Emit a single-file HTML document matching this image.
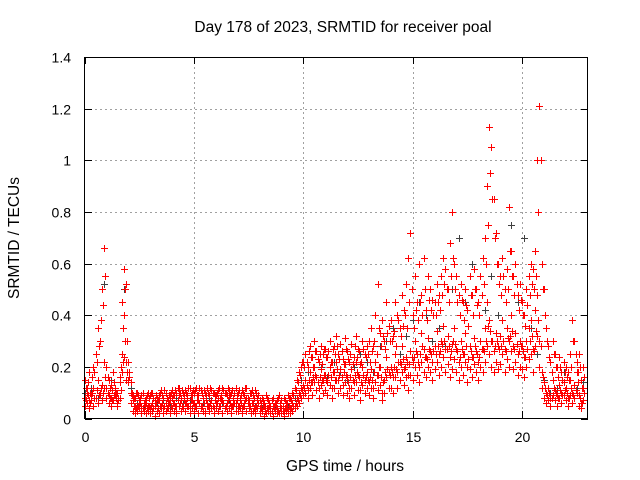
<!DOCTYPE html>
<html><head><meta charset="utf-8"><style>
body{margin:0;background:#fff}
svg{display:block;font-family:"Liberation Sans",sans-serif}
</style></head><body>
<svg id="chart" width="640" height="480" viewBox="0 0 640 480">
<rect width="640" height="480" fill="#fff"/>
<text x="343" y="32" text-anchor="middle" font-size="15.5">Day 178 of 2023, SRMTID for receiver poal</text>
<text transform="translate(19,238) rotate(-90)" text-anchor="middle" font-size="15.5">SRMTID / TECUs</text>
<text x="345" y="471" text-anchor="middle" font-size="15.5">GPS time / hours</text>
<g id="grid"></g>
<g id="ticks"></g>
<g id="marks"></g>
<rect x="84.5" y="57.5" width="503" height="361" fill="none" stroke="#000"/>
</svg>
<script>
// data: values in TECU x 100, sampled every 0.1 h (A,B,C from 0 h; D,E from 0.05 h)
const xTicks=[0,5,10,15,20];
const yTicks=[0,0.2,0.4,0.6,0.8,1,1.2,1.4];
const yTickLabels=["0","0.2","0.4","0.6","0.8","1","1.2","1.4"];
const step=0.1;
const grayStep=0.3;
const seriesA=[8,10,7,9,12,8,15,10,13,22,12,9,8,7,10,6,14,25,40,22,15,14,7,5,4,6,5,3,6,5,4,6,5,3,7,5,4,6,5,7,8,6,5,9,7,4,6,8,5,7,6,4,7,5,8,3,6,5,7,4,6,8,5,7,4,6,9,5,7,6,5,7,4,6,8,5,3,6,4,7,4,3,5,2,4,3,5,3,4,2,4,3,5,3,4,6,5,8,10,12,13,15,11,18,14,20,16,12,19,15,17,14,20,12,18,22,15,19,13,21,16,12,19,14,22,17,11,20,15,18,14,19,12,22,17,20,10,15,24,18,20,16,25,18,22,28,19,24,17,26,22,30,25,20,33,27,24,31,26,22,28,34,25,30,36,27,32,24,29,35,27,22,30,25,33,20,28,24,31,26,22,30,27,35,45,38,30,26,33,28,32,38,27,35,30,40,28,33,25,30,28,24,30,35,38,27,42,48,30,18,14,10,12,8,15,11,9,13,10,14,12,8,15,10,13,18,9,6,12];
const seriesB=[15,12,18,9,20,25,35,30,50,66,20,15,13,18,12,10,16,45,58,52,22,10,9,8,10,7,9,6,8,10,9,10,7,8,9,11,8,10,7,9,11,9,10,12,8,10,11,9,12,10,10,12,9,11,8,10,12,9,11,10,9,11,8,12,10,9,11,10,8,12,10,8,11,9,12,7,10,9,11,8,7,8,6,9,7,5,8,6,7,9,7,8,6,9,8,10,12,15,18,20,22,25,20,28,24,30,26,22,28,25,27,24,30,22,28,32,25,29,23,31,26,22,29,24,32,27,21,30,25,28,30,35,28,40,52,33,38,30,45,36,38,32,45,40,35,48,42,52,62,72,40,55,45,60,48,62,42,55,50,46,45,52,48,55,62,58,50,68,80,60,55,48,52,45,50,42,55,48,58,50,45,55,62,70,90,113,105,85,72,60,55,62,50,58,82,65,55,60,48,52,45,40,50,55,60,58,65,100,121,60,50,35,28,22,30,25,20,24,18,22,20,18,25,38,30,22,25,15,20];
const seriesC=[5,6,4,7,5,8,6,9,7,12,8,6,5,7,9,5,8,18,24,15,14,6,3,2,3,4,2,3,2,3,2,3,1,3,2,4,2,3,4,2,4,3,2,5,3,4,3,5,2,4,3,5,2,4,3,2,5,3,4,2,4,3,5,2,4,3,4,2,5,3,3,4,2,5,3,4,2,3,2,4,2,3,1,2,3,2,1,3,2,2,2,1,3,2,2,3,4,5,6,8,9,10,8,12,9,14,11,8,13,10,11,9,13,8,12,15,10,12,9,14,10,8,12,9,14,11,7,13,10,12,9,12,8,14,11,13,7,10,16,12,12,10,16,12,15,18,13,16,11,17,15,20,17,14,22,18,16,20,18,15,19,22,17,20,24,18,21,16,19,23,18,15,20,17,22,14,19,16,21,18,15,20,18,22,28,25,20,18,22,19,21,25,18,23,20,26,19,22,17,20,19,16,20,23,25,18,28,32,20,12,8,6,7,5,9,7,5,8,6,9,7,5,9,6,8,10,5,4,7];
const seriesD=[12,14,10,16,18,22,28,38,44,55,16,12,11,14,10,8,20,35,50,30,18,9,8,10,9,8,10,7,9,8,10,8,9,7,10,9,11,8,9,10,9,11,12,10,11,9,10,12,9,11,11,9,12,10,11,9,10,12,10,9,10,12,9,11,10,12,9,11,10,9,11,9,10,12,8,10,11,8,10,9,6,7,5,8,6,7,5,6,8,6,5,7,6,8,7,9,11,14,17,22,20,22,26,24,20,26,23,25,21,27,24,26,22,27,25,28,23,26,21,27,23,25,21,28,24,26,22,27,24,25,22,26,30,25,35,28,32,27,33,30,30,34,28,38,32,36,40,35,45,50,35,42,38,45,40,50,38,46,42,40,40,45,42,48,52,50,45,55,62,50,45,40,46,38,44,36,48,40,50,44,40,48,52,60,75,95,85,70,60,52,48,55,45,50,65,55,48,52,42,46,40,36,44,48,52,50,55,80,100,50,40,30,24,18,25,20,16,20,15,18,16,15,20,30,25,18,20,12,16];
const seriesE=[7,9,6,10,8,11,9,12,10,16,10,8,7,9,8,7,11,22,30,18,16,10,5,4,5,6,4,5,4,5,5,4,6,4,5,6,5,4,6,5,6,5,7,6,5,7,6,5,7,6,5,7,6,5,6,7,5,6,5,7,6,5,7,6,5,7,6,5,6,7,5,6,5,7,6,5,6,4,5,6,4,5,3,4,5,3,4,5,3,4,3,4,4,5,4,5,6,7,9,11,12,13,15,14,16,17,14,16,15,17,15,17,16,18,15,19,17,16,18,17,14,16,15,17,18,16,14,17,16,15,16,15,18,17,20,16,14,18,19,17,18,20,19,22,21,23,20,22,21,24,24,26,22,25,28,24,23,27,25,26,25,28,26,29,30,27,28,26,30,29,26,24,27,25,28,23,26,24,28,25,24,27,26,30,36,34,30,28,30,27,28,30,26,31,32,34,27,29,26,28,26,24,27,30,32,26,34,38,28,16,12,9,10,8,12,10,8,11,9,11,10,8,12,9,11,14,8,6,10];
const grayValues=[10,12,8,52,15,10,50,12,6,5,4,6,7,5,8,6,7,5,6,8,5,6,7,5,4,6,5,4,3,4,3,5,8,15,18,14,20,16,22,18,15,20,25,22,18,28,30,35,25,32,38,45,40,30,35,28,50,70,45,60,45,42,55,40,50,75,45,70,35,25,15,10,12,18,15,12,14];

const X0=84.6,PXH=21.87,Y0=418.5,PXU=258.3;
const xs=t=>X0+t*PXH, ys=v=>Y0-v*PXU;
const NS='http://www.w3.org/2000/svg';
const grid=document.getElementById('grid'),ticks=document.getElementById('ticks'),marks=document.getElementById('marks');
function mk(tag,attrs,parent){const e=document.createElementNS(NS,tag);for(const k in attrs)e.setAttribute(k,attrs[k]);parent.appendChild(e);return e;}
xTicks.forEach(t=>{const x=Math.round(xs(t))+0.5;
 if(t>0){const g=mk('line',{x1:x,x2:x,y1:57,y2:418,stroke:'#a0a0a0','stroke-dasharray':'2,3'},grid);
 
 }
 mk('line',{x1:x,x2:x,y1:418,y2:411,stroke:'#000'},ticks);
 mk('line',{x1:x,x2:x,y1:57,y2:64,stroke:'#000'},ticks);
 const l=mk('text',{x:x,y:442,'text-anchor':'middle','font-size':'14'},ticks);l.textContent=t;
 
 });
yTicks.forEach((v,i)=>{const y=Math.round(ys(v))+0.5;
 if(v>0&&v<1.4){const g=mk('line',{x1:85,x2:588,y1:y,y2:y,stroke:'#a0a0a0','stroke-dasharray':'2,3'},grid);
 
 }
 mk('line',{x1:85,x2:92,y1:y,y2:y,stroke:'#000'},ticks);
 mk('line',{x1:581,x2:588,y1:y,y2:y,stroke:'#000'},ticks);
 const l=mk('text',{x:71,y:y+5,'text-anchor':'end','font-size':'14'},ticks);l.textContent=yTickLabels[i];
 
 });
function plus(d,t,v){const x=Math.round(xs(t))+0.5,y=Math.round(ys(v/100))+0.5;return d+`M${x-3.5} ${y}h7M${x} ${y-3.5}v7`;}
let dg='';grayValues.forEach((v,i)=>{dg=plus(dg,i*grayStep,v);});
const pg=mk('path',{d:dg,stroke:'#404040','stroke-width':1,fill:'none'},marks);


let dr='';
[seriesA,seriesB,seriesC].forEach(s=>s.forEach((v,i)=>{dr=plus(dr,i*step,v);}));
[seriesD,seriesE].forEach(s=>s.forEach((v,i)=>{dr=plus(dr,i*step+0.05,v);}));
const pr=mk('path',{d:dr,stroke:'#ff0000','stroke-width':1,fill:'none'},marks);


</script>
</body></html>
